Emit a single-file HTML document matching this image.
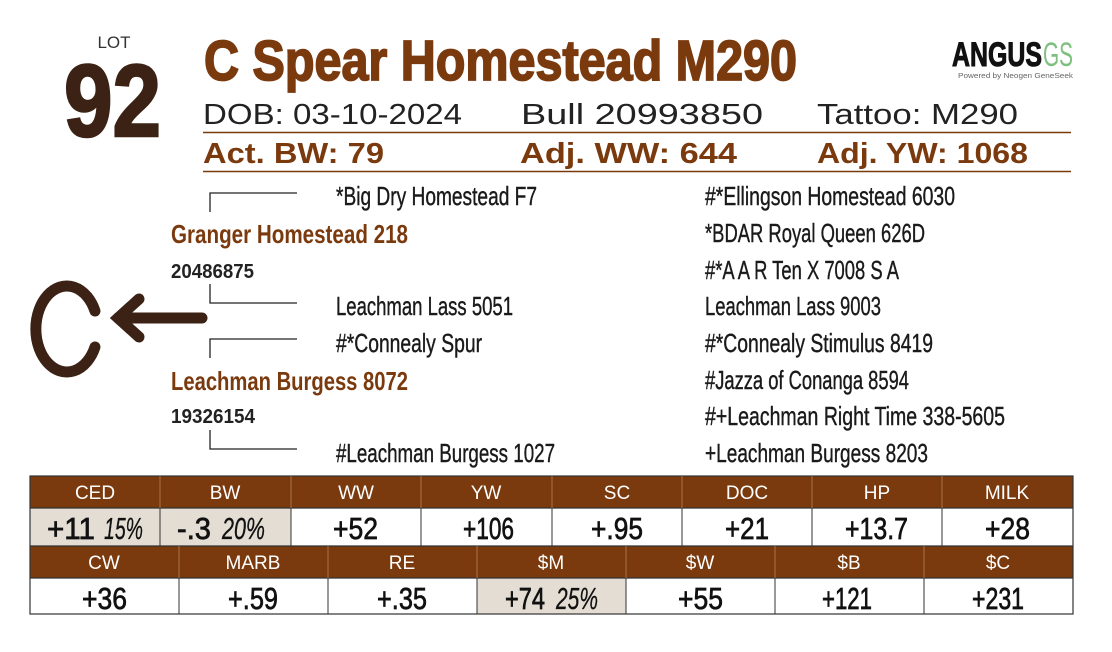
<!DOCTYPE html>
<html><head><meta charset="utf-8"><style>
html,body{margin:0;padding:0;background:#fff;}
svg{display:block;}
text{font-family:"Liberation Sans",sans-serif;}
</style></head><body>
<svg width="1112" height="652" viewBox="0 0 1112 652" xmlns="http://www.w3.org/2000/svg">
<rect width="1112" height="652" fill="#fff"/>
<!-- LOT -->
<text x="114" y="48" font-size="17" fill="#333" text-anchor="middle">LOT</text>
<text x="64" y="136" font-size="102" font-weight="bold" fill="#3b2214" stroke="#3b2214" stroke-width="2.5" textLength="97" lengthAdjust="spacingAndGlyphs">92</text>
<!-- Title -->
<text x="204" y="80" font-size="57" font-weight="bold" fill="#7a3a0e" stroke="#7a3a0e" stroke-width="1.8" textLength="593" lengthAdjust="spacingAndGlyphs">C Spear Homestead M290</text>
<!-- Logo -->
<text x="952" y="66" font-size="34" font-weight="bold" fill="#111" stroke="#111" stroke-width="1" textLength="90" lengthAdjust="spacingAndGlyphs">ANGUS</text>
<text x="1043" y="66" font-size="34" fill="#7fbf7f" textLength="30" lengthAdjust="spacingAndGlyphs">GS</text>
<text x="958" y="78" font-size="7" fill="#666" textLength="115" lengthAdjust="spacingAndGlyphs">Powered by Neogen GeneSeek</text>
<!-- DOB row -->
<g font-size="29" fill="#222">
<text x="203" y="124" textLength="259" lengthAdjust="spacingAndGlyphs">DOB:  03-10-2024</text>
<text x="521" y="124" textLength="242" lengthAdjust="spacingAndGlyphs">Bull    20993850</text>
<text x="817" y="124" textLength="201" lengthAdjust="spacingAndGlyphs">Tattoo:  M290</text>
</g>
<line x1="203" y1="132.5" x2="1071" y2="132.5" stroke="#7a3a0e" stroke-width="1.5"/>
<g font-size="29" font-weight="bold" fill="#7a3a0e">
<text x="203" y="163" textLength="181" lengthAdjust="spacingAndGlyphs">Act. BW: 79</text>
<text x="520" y="163" textLength="217" lengthAdjust="spacingAndGlyphs">Adj. WW: 644</text>
<text x="817" y="163" textLength="211" lengthAdjust="spacingAndGlyphs">Adj. YW: 1068</text>
</g>
<line x1="203" y1="171.5" x2="1071" y2="171.5" stroke="#7a3a0e" stroke-width="1.5"/>
<!-- Brackets -->
<g stroke="#222" stroke-width="1.3" fill="none">
<polyline points="210,212 210,193 297,193"/>
<polyline points="210,284 210,303 297,303"/>
<polyline points="210,358 210,339 297,339"/>
<polyline points="210,430 210,449 297,449"/>
</g>
<!-- C arrow -->
<g stroke="#3b2214" stroke-width="11" fill="none" stroke-linecap="round">
<path d="M95,311 A31,43 0 1 0 95,347"/>
<line x1="118" y1="318" x2="202" y2="318"/>
<polyline points="139,299 118,318 139,337"/>
</g>
<!-- Pedigree left -->
<g font-size="26" fill="#1a1a1a" stroke="#1a1a1a" stroke-width="0.4">
<text x="336" y="205" textLength="201" lengthAdjust="spacingAndGlyphs">*Big Dry Homestead F7</text>
<text x="336" y="315" textLength="177" lengthAdjust="spacingAndGlyphs">Leachman Lass 5051</text>
<text x="336" y="352" textLength="146" lengthAdjust="spacingAndGlyphs">#*Connealy Spur</text>
<text x="336" y="462" textLength="219" lengthAdjust="spacingAndGlyphs">#Leachman Burgess 1027</text>
</g>
<g font-size="26" font-weight="bold" fill="#7a3a0e">
<text x="171" y="243" textLength="237" lengthAdjust="spacingAndGlyphs">Granger Homestead 218</text>
<text x="171" y="390" textLength="237" lengthAdjust="spacingAndGlyphs">Leachman Burgess 8072</text>
</g>
<g font-size="20" font-weight="bold" fill="#222">
<text x="171" y="278" textLength="83" lengthAdjust="spacingAndGlyphs">20486875</text>
<text x="171" y="423" textLength="84" lengthAdjust="spacingAndGlyphs">19326154</text>
</g>
<!-- Pedigree right -->
<g font-size="26" fill="#1a1a1a" stroke="#1a1a1a" stroke-width="0.4">
<text x="705" y="205" textLength="250" lengthAdjust="spacingAndGlyphs">#*Ellingson Homestead 6030</text>
<text x="705" y="242" textLength="220" lengthAdjust="spacingAndGlyphs">*BDAR Royal Queen 626D</text>
<text x="705" y="279" textLength="194" lengthAdjust="spacingAndGlyphs">#*A A R Ten X 7008 S A</text>
<text x="705" y="315" textLength="176" lengthAdjust="spacingAndGlyphs">Leachman Lass 9003</text>
<text x="705" y="352" textLength="228" lengthAdjust="spacingAndGlyphs">#*Connealy Stimulus 8419</text>
<text x="705" y="389" textLength="204" lengthAdjust="spacingAndGlyphs">#Jazza of Conanga 8594</text>
<text x="705" y="425" textLength="300" lengthAdjust="spacingAndGlyphs">#+Leachman Right Time 338-5605</text>
<text x="705" y="462" textLength="223" lengthAdjust="spacingAndGlyphs">+Leachman Burgess 8203</text>
</g>
<!-- Table -->
<rect x="30" y="476" width="1043" height="32" fill="#7a3a0e"/>
<rect x="30" y="508" width="1043" height="38" fill="#fff"/>
<rect x="30" y="508" width="261" height="38" fill="#e4ddd4"/>
<rect x="30" y="546" width="1043" height="32" fill="#7a3a0e"/>
<rect x="30" y="578" width="1043" height="36" fill="#fff"/>
<rect x="477" y="578" width="149" height="36" fill="#e4ddd4"/>
<g stroke="#333" stroke-width="1.2" fill="none">
<rect x="30" y="476" width="1043" height="138"/>
<line x1="30" y1="508" x2="1073" y2="508"/>
<line x1="30" y1="546" x2="1073" y2="546"/>
<line x1="30" y1="578" x2="1073" y2="578"/>
</g>
<g stroke="#333" stroke-width="1">
<line x1="160" y1="508" x2="160" y2="546"/><line x1="291" y1="508" x2="291" y2="546"/><line x1="421" y1="508" x2="421" y2="546"/><line x1="552" y1="508" x2="552" y2="546"/><line x1="682" y1="508" x2="682" y2="546"/><line x1="812" y1="508" x2="812" y2="546"/><line x1="942" y1="508" x2="942" y2="546"/>
<line x1="179" y1="578" x2="179" y2="614"/><line x1="328" y1="578" x2="328" y2="614"/><line x1="477" y1="578" x2="477" y2="614"/><line x1="626" y1="578" x2="626" y2="614"/><line x1="775" y1="578" x2="775" y2="614"/><line x1="924" y1="578" x2="924" y2="614"/>
</g>
<g stroke="#a9714a" stroke-width="1">
<line x1="160" y1="476" x2="160" y2="508"/><line x1="291" y1="476" x2="291" y2="508"/><line x1="421" y1="476" x2="421" y2="508"/><line x1="552" y1="476" x2="552" y2="508"/><line x1="682" y1="476" x2="682" y2="508"/><line x1="812" y1="476" x2="812" y2="508"/><line x1="942" y1="476" x2="942" y2="508"/>
<line x1="179" y1="546" x2="179" y2="578"/><line x1="328" y1="546" x2="328" y2="578"/><line x1="477" y1="546" x2="477" y2="578"/><line x1="626" y1="546" x2="626" y2="578"/><line x1="775" y1="546" x2="775" y2="578"/><line x1="924" y1="546" x2="924" y2="578"/>
</g>
<g font-size="19" fill="#fff" text-anchor="middle">
<text x="95" y="499">CED</text><text x="225" y="499">BW</text><text x="356" y="499">WW</text><text x="486" y="499">YW</text><text x="617" y="499">SC</text><text x="747" y="499">DOC</text><text x="877" y="499">HP</text><text x="1007" y="499">MILK</text>
<text x="104" y="569">CW</text><text x="253" y="569">MARB</text><text x="402" y="569">RE</text><text x="551" y="569">$M</text><text x="700" y="569">$W</text><text x="849" y="569">$B</text><text x="998" y="569">$C</text>
</g>
<g font-size="31" fill="#111" stroke="#111" stroke-width="0.7">
<text x="47" y="539" textLength="48" lengthAdjust="spacingAndGlyphs">+11</text>
<text x="104" y="539" font-style="italic" stroke-width="0.3" textLength="39" lengthAdjust="spacingAndGlyphs">15%</text>
<text x="177" y="539" textLength="34" lengthAdjust="spacingAndGlyphs">-.3</text>
<text x="222" y="539" font-style="italic" stroke-width="0.3" textLength="43" lengthAdjust="spacingAndGlyphs">20%</text>
<text x="333" y="539" textLength="45" lengthAdjust="spacingAndGlyphs">+52</text>
<text x="463" y="539" textLength="51" lengthAdjust="spacingAndGlyphs">+106</text>
<text x="591" y="539" textLength="52" lengthAdjust="spacingAndGlyphs">+.95</text>
<text x="725" y="539" textLength="44" lengthAdjust="spacingAndGlyphs">+21</text>
<text x="845" y="539" textLength="63" lengthAdjust="spacingAndGlyphs">+13.7</text>
<text x="985" y="539" textLength="45" lengthAdjust="spacingAndGlyphs">+28</text>
<text x="82" y="609" textLength="45" lengthAdjust="spacingAndGlyphs">+36</text>
<text x="228" y="609" textLength="50" lengthAdjust="spacingAndGlyphs">+.59</text>
<text x="377" y="609" textLength="50" lengthAdjust="spacingAndGlyphs">+.35</text>
<text x="505" y="609" textLength="40" lengthAdjust="spacingAndGlyphs">+74</text>
<text x="556" y="609" font-style="italic" stroke-width="0.3" textLength="42" lengthAdjust="spacingAndGlyphs">25%</text>
<text x="678" y="609" textLength="45" lengthAdjust="spacingAndGlyphs">+55</text>
<text x="822" y="609" textLength="50" lengthAdjust="spacingAndGlyphs">+121</text>
<text x="972" y="609" textLength="52" lengthAdjust="spacingAndGlyphs">+231</text>
</g>
</svg>
</body></html>
